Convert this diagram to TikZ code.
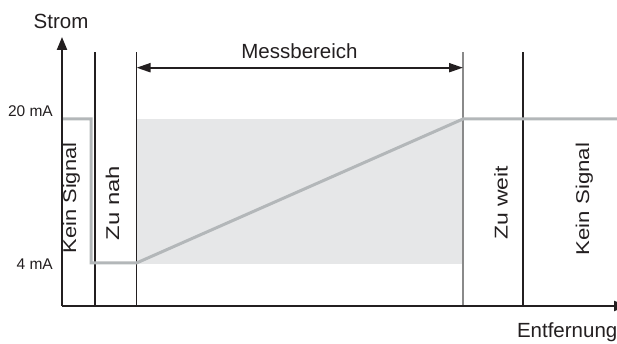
\documentclass[tikz,border=0pt]{standalone}
\usepackage{fontspec}
\setmainfont{Liberation Sans}
\usepackage{graphicx}
\usetikzlibrary{arrows.meta}
\definecolor{ink}{HTML}{231F20}
\definecolor{sig}{HTML}{B3B7B9}
\definecolor{band}{HTML}{E6E7E8}
\definecolor{midgray}{HTML}{8A8A8A}
\tikzset{
  axisline/.style={draw=ink, line width=2.2pt, -{Triangle[length=13pt,width=10pt]}},
  sepline/.style={draw=ink, line width=1.1pt},
  sepgray/.style={draw=midgray, line width=1.5pt},
  signal/.style={draw=sig, line width=3pt, line join=miter},
  rangearrow/.style={draw=ink, line width=2pt, {Triangle[length=14pt,width=9pt]}-{Triangle[length=14pt,width=9pt]}},
  biglbl/.style={font=\fontsize{20.5}{24}\selectfont, text=ink, inner sep=0pt},
  smalllbl/.style={font=\fontsize{15.5}{18}\selectfont, text=ink, inner sep=0pt, anchor=base east},
  vlbl/.style={font=\fontsize{18.5}{22}\selectfont, text=ink, inner sep=0pt, rotate=90, anchor=base}
}
\begin{document}
\begin{tikzpicture}[x=1pt,y=1pt]
\useasboundingbox (0,0) rectangle (617,344);
% measuring band
\fill[band] (136.5,80) rectangle (463,225);
% coordinates
\coordinate (O) at (62,38);
\coordinate (ytip) at (62,307);
\coordinate (xtip) at (627,38);
\coordinate (v1t) at (95,292);  \coordinate (v1b) at (95,38);
\coordinate (v2t) at (136.5,292); \coordinate (v2b) at (136.5,38);
\coordinate (v3t) at (463,292); \coordinate (v3b) at (463,38);
\coordinate (v4t) at (523,292); \coordinate (v4b) at (523,38);
\coordinate (s0) at (62,225);
\coordinate (s1) at (91,225);
\coordinate (s2) at (91,81);
\coordinate (s3) at (136.5,81);
\coordinate (s4) at (463,225);
\coordinate (s5) at (617,225);
\coordinate (ma) at (136.5,276.3);
\coordinate (mb) at (463,276.3);
% separators
\draw[sepline] (v1b) -- (v1t);
\draw[sepline] (v2b) -- (v2t);
\draw[sepgray] (v3b) -- (v3t);
\draw[sepline] (v4b) -- (v4t);
% signal curve
\draw[signal] (s0) -- (s1) -- (s2) -- (s3) -- (s4) -- (s5);
% axes
\draw[axisline] (O) -- (ytip);
\draw[axisline] (O) -- (xtip);
% measuring range arrow
\draw[rangearrow] (ma) -- (mb);
% labels
\node[biglbl, anchor=base] (strom) at (61,315.7) {Strom};
\node[biglbl, anchor=base] (mess) at (299.5,285.7) {Messbereich};
\node[biglbl, anchor=base east] (entf) at (617.5,6) {Entfernung};
\node[smalllbl] (l20) at (53,227) {20 mA};
\node[smalllbl] (l4) at (53,74) {4 mA};
\node[vlbl] (kein1) at (76,146) {\scalebox{1.18}[1]{Kein Signal}};
\node[vlbl] (nah) at (119,141) {\scalebox{1.29}[1]{Zu nah}};
\node[vlbl] (weit) at (507.5,141) {\scalebox{1.24}[1]{Zu weit}};
\node[vlbl] (kein2) at (589,145) {\scalebox{1.2}[1]{Kein Signal}};
\end{tikzpicture}
\end{document}
